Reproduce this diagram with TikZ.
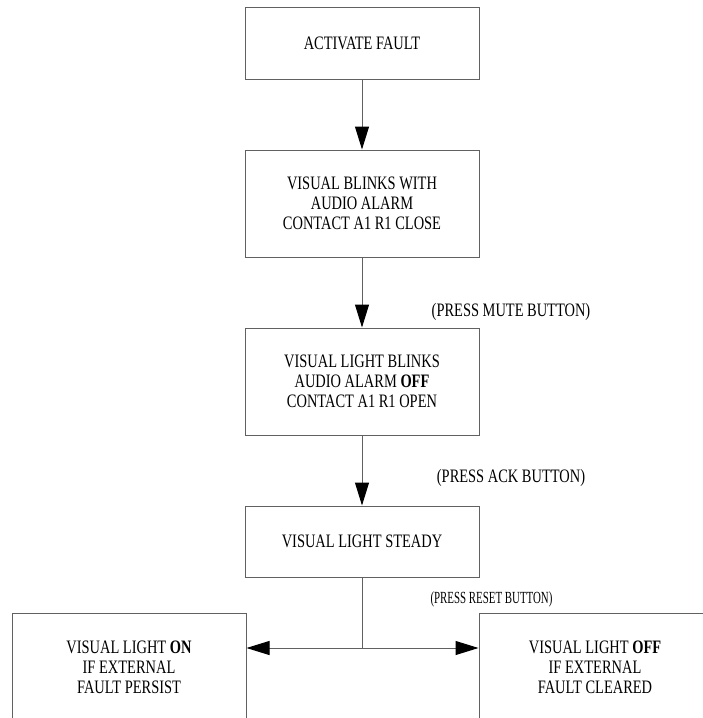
\documentclass[tikz,border=0pt]{standalone}
\usepackage{fontspec}
\setmainfont{Liberation Serif}[FakeStretch=0.76]
\newfontfamily\narrowfont{Liberation Serif}[FakeStretch=0.64]
\usetikzlibrary{arrows.meta}
\definecolor{linegray}{rgb}{0.38,0.38,0.38}
\tikzset{
  box/.style={draw=linegray, line width=1pt, rectangle, align=center, minimum width=234pt, inner sep=0pt,
    font=\fontsize{19}{20}\selectfont, text=black},
  flow/.style={draw=linegray, line width=1pt, -{Triangle[length=23pt,width=14pt,color=black]}},
  plain/.style={draw=linegray, line width=1pt},
  lbl/.style={font=\fontsize{19}{20}\selectfont, inner sep=0pt},
  smalllbl/.style={font=\narrowfont\fontsize{17}{18}\selectfont, inner sep=0pt}
}
\begin{document}
\begin{tikzpicture}[x=1pt,y=-1pt]
\useasboundingbox (0,0) rectangle (703,718);
\clip (0,0) rectangle (703,718);
\fill[white] (0,0) rectangle (703,718);
\node[box, minimum height=72pt] (b1) at (362,43) {ACTIVATE FAULT};
\node[box, minimum height=107pt] (b2) at (362,203.5) {VISUAL BLINKS WITH\\AUDIO ALARM\\CONTACT A1 R1 CLOSE};
\node[box, minimum height=107pt] (b3) at (362,381.5) {VISUAL LIGHT BLINKS\\AUDIO ALARM \textbf{OFF}\\CONTACT A1 R1 OPEN};
\node[box, minimum height=71pt] (b4) at (362,541.5) {VISUAL LIGHT STEADY};
\node[box, minimum height=108pt] (b5) at (129,667) {VISUAL LIGHT \textbf{ON}\\IF EXTERNAL\\FAULT PERSIST};
\node[box, minimum height=108pt, minimum width=232pt] (b6) at (595,667) {VISUAL LIGHT \textbf{OFF}\\IF EXTERNAL\\FAULT CLEARED};
\node[lbl] (l1) at (511,312) {(PRESS MUTE BUTTON)};
\node[lbl] (l2) at (511,478) {(PRESS ACK BUTTON)};
\node[smalllbl] (l3) at (491.5,599) {(PRESS RESET BUTTON)};
\coordinate (j) at (362,648);
\draw[flow] (b1.south) -- (b2.north);
\draw[flow] (b2.south) -- (b3.north);
\draw[flow] (b3.south) -- (b4.north);
\draw[plain] (b4.south) -- (j);
\draw[flow] (j) -- (b5.east |- j);
\draw[flow] (j) -- (b6.west |- j);
\end{tikzpicture}
\end{document}
